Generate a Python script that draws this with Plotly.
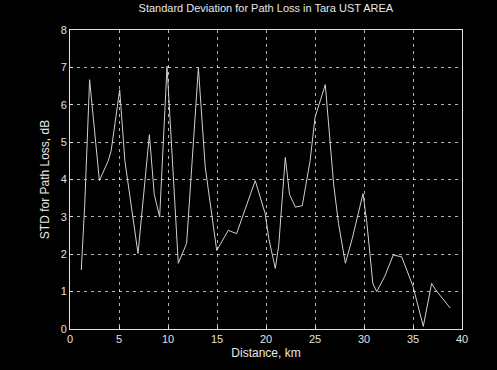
import plotly.graph_objects as go

distance_km = [1.15, 1.5, 2.0, 3.0, 3.9, 4.2, 5.07, 5.6, 6.94, 8.1, 8.6, 9.15, 9.9,
               11.05, 11.9, 13.1, 13.8, 14.97, 16.15, 17.0, 17.6, 18.9, 19.9, 20.3,
               20.95, 21.3, 21.97, 22.4, 23.0, 23.7, 24.5, 25.0, 26.05, 26.9, 27.4,
               28.1, 28.8, 29.6, 29.9, 30.3, 30.9, 31.3, 32.1, 32.99, 33.85, 35.0,
               35.5, 36.05, 36.9, 37.3, 38.8]
std_db = [1.58, 3.3, 6.67, 3.97, 4.5, 4.77, 6.4, 4.5, 2.02, 5.2, 3.6, 3.0, 7.03,
          1.76, 2.29, 6.99, 4.33, 2.1, 2.64, 2.55, 3.0, 3.97, 3.1, 2.4,
          1.62, 2.24, 4.59, 3.6, 3.26, 3.3, 4.5, 5.66, 6.54, 3.88, 2.82,
          1.76, 2.42, 3.3, 3.62, 2.82, 1.22, 1.0, 1.4, 1.98, 1.93, 1.14,
          0.6, 0.07, 1.22, 1.05, 0.56]

x_ticks = [0, 5, 10, 15, 20, 25, 30, 35, 40]
y_ticks = [0, 1, 2, 3, 4, 5, 6, 7, 8]

fnt = "Liberation Sans, Arial, sans-serif"

fig = go.Figure()
fig.add_trace(go.Scatter(x=distance_km, y=std_db, mode="lines",
                         line=dict(color="#d0d0d0", width=1), showlegend=False))

axis_common = dict(showgrid=True, gridcolor="rgba(255,255,255,0.7)", griddash="3px,4px",
                   gridwidth=1, showline=True, linecolor="#e0e0e0", linewidth=1,
                   mirror=True, zeroline=False, ticks="inside", ticklen=3,
                   tickcolor="#e0e0e0", tickfont=dict(family=fnt, size=11, color="#e0e0e0"))

fig.update_xaxes(range=[0, 40], tickvals=x_ticks, **axis_common,
                 title=dict(text="Distance, km", font=dict(family=fnt, size=12, color="#e8e8e8"),
                            standoff=4))
fig.update_yaxes(range=[0, 8], tickvals=y_ticks, **axis_common,
                 title=dict(text="STD for Path Loss, dB", font=dict(family=fnt, size=12, color="#e8e8e8"),
                            standoff=8))

fig.update_layout(
    width=497, height=370,
    paper_bgcolor="black", plot_bgcolor="black",
    margin=dict(l=70, r=35, t=30, b=39),
    title=dict(text="Standard Deviation for Path Loss in Tara UST AREA",
               font=dict(family=fnt, size=11, color="#e8e8e8"),
               x=0.535, xanchor="center", y=0.978, yanchor="middle"),
)

fig.write_html("out.html")
